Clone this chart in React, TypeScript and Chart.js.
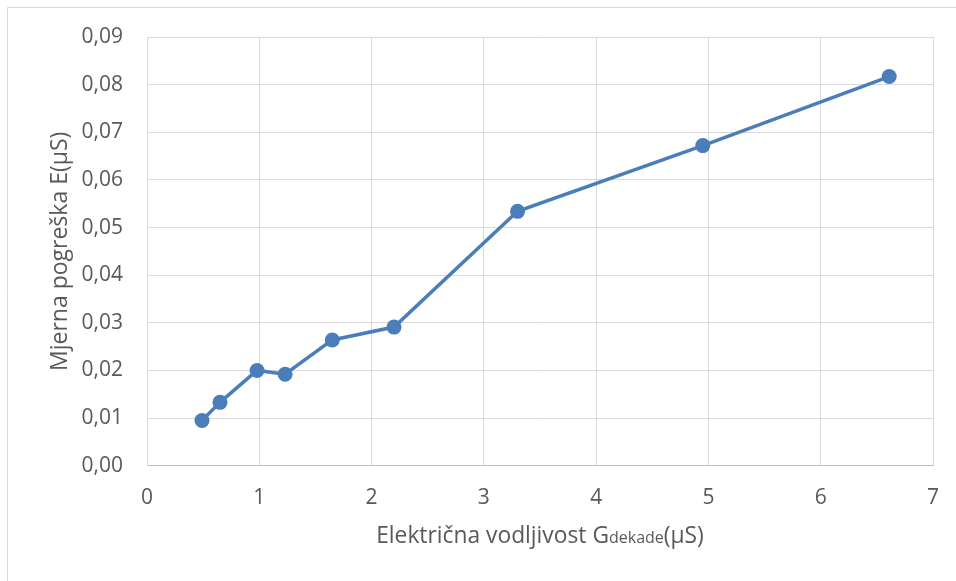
import React, { useEffect, useRef } from "react";
import { Chart, registerables } from "chart.js";

Chart.register(...registerables);

const xValues: number[] = [0.49, 0.65, 0.98, 1.23, 1.65, 2.2, 3.3, 4.95, 6.61];
const yValues: number[] = [0.0095, 0.0133, 0.02, 0.0192, 0.0264, 0.0291, 0.0534, 0.0672, 0.0817];
const yTitle = "Mjerna pogreška E(µS)";
const xTitleMain = "Električna vodljivost G";
const xTitleSub = "dekade";
const xTitleEnd = "(µS)";

const FONT = "'Open Sans', sans-serif";
const TEXT = "#595959";
const GRID = "#d9d9d9";
const BLUE = "#4a7ebb";

export default function App() {
  const ref = useRef<HTMLCanvasElement | null>(null);
  useEffect(() => {
    if (!ref.current) return;
    const framePlugin = {
      id: "frame",
      beforeDraw(chart: any) {
        const ctx = chart.ctx;
        ctx.save();
        ctx.fillStyle = "#ffffff";
        ctx.fillRect(0, 0, chart.width, chart.height);
        ctx.strokeStyle = GRID;
        ctx.lineWidth = 1;
        ctx.beginPath();
        ctx.moveTo(7.5, chart.height);
        ctx.lineTo(7.5, 7.5);
        ctx.lineTo(chart.width, 7.5);
        ctx.stroke();
        ctx.restore();
      },
      afterDraw(chart: any) {
        const ctx = chart.ctx;
        const area = chart.chartArea;
        ctx.save();
        ctx.fillStyle = TEXT;
        ctx.textBaseline = "alphabetic";
        const big = `22.8px ${FONT}`;
        const small = `16px ${FONT}`;
        ctx.font = big;
        const w1 = ctx.measureText(xTitleMain).width;
        const w3 = ctx.measureText(xTitleEnd).width;
        ctx.font = small;
        const w2 = ctx.measureText(xTitleSub).width;
        const total = w1 + w2 + w3;
        let x = (area.left + area.right) / 2 - total / 2;
        const y = 543;
        ctx.textAlign = "left";
        ctx.font = big;
        ctx.fillText(xTitleMain, x, y);
        x += w1;
        ctx.font = small;
        ctx.fillText(xTitleSub, x, y);
        x += w2;
        ctx.font = big;
        ctx.fillText(xTitleEnd, x, y);
        ctx.restore();
      },
    };
    const chart = new Chart(ref.current, {
      type: "scatter",
      data: {
        datasets: [
          {
            data: xValues.map((x, i) => ({ x, y: yValues[i] })),
            showLine: true,
            borderColor: BLUE,
            backgroundColor: BLUE,
            borderWidth: 3.5,
            pointRadius: 7.5,
            pointHoverRadius: 7.5,
            pointBorderWidth: 0,
            tension: 0,
          },
        ],
      },
      options: {
        responsive: false,
        animation: false,
        layout: { padding: { left: 0, right: 23, top: 37, bottom: 0 } },
        plugins: { legend: { display: false }, tooltip: { enabled: false } },
        scales: {
          x: {
            type: "linear",
            min: 0,
            max: 7,
            afterFit: (s: any) => {
              s.height = 115.3;
              s.paddingLeft = 0;
              s.paddingRight = 0;
            },
            grid: { color: GRID, drawTicks: false, lineWidth: 1 },
            border: { color: "#bfbfbf", width: 1 },
            ticks: {
              stepSize: 1,
              padding: 20,
              color: TEXT,
              font: { family: FONT, size: 21 },
            },
          },
          y: {
            type: "linear",
            min: 0,
            max: 0.09,
            afterFit: (s: any) => {
              s.width = 147;
              s.paddingTop = 0;
              s.paddingBottom = 0;
            },
            grid: { color: GRID, drawTicks: false, lineWidth: 1 },
            border: { color: GRID, width: 1 },
            ticks: {
              stepSize: 0.01,
              padding: 24,
              color: TEXT,
              font: { family: FONT, size: 21 },
              callback: (v: any) => Number(v).toFixed(2).replace(".", ","),
            },
            title: {
              display: true,
              text: yTitle,
              color: TEXT,
              font: { family: FONT, size: 23 },
              padding: { top: 47, bottom: 0 },
            },
          },
        },
      },
      plugins: [framePlugin],
    });
    return () => chart.destroy();
  }, []);
  return (
    <div style={{ position: "fixed", left: 0, top: 0, width: 956, height: 581, background: "#fff" }}>
      <canvas ref={ref} width={956} height={581} style={{ display: "block" }} />
    </div>
  );
}
